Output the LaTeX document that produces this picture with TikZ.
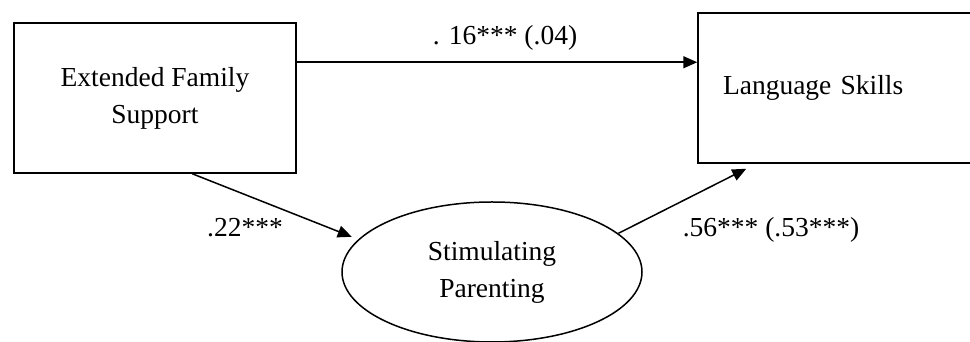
\documentclass[tikz,border=0pt]{standalone}
\usepackage{fontspec}
\setmainfont{Liberation Serif}
\usetikzlibrary{arrows.meta,shapes.geometric}
\begin{document}
\begin{tikzpicture}[x=1pt,y=1pt,
  every node/.style={font=\fontsize{27.5}{37}\selectfont},
  boxnode/.style={draw, line width=1.5pt, inner sep=0pt},
  ovalnode/.style={draw, ellipse, line width=1.5pt, inner sep=0pt, minimum width=300pt, minimum height=140pt, align=center},
  arr/.style={line width=1.5pt, -{Triangle[length=14pt,width=12pt]}},
  lbl/.style={inner sep=0pt}]
\clip (0,0) rectangle (970,342);
\fill[white] (0,0) rectangle (970,342);
\node[boxnode, minimum width=282pt, minimum height=150pt, align=center] (efs) at (155,244) {Extended Family\\Support};
\node[boxnode, minimum width=312pt, minimum height=150pt, text width=262pt, inner xsep=25pt, align=left] (ls) at (854,254) {Language Skills};
\node[ovalnode] (sp) at (492,70) {Stimulating\\Parenting};
\draw[arr] ([yshift=-40pt]efs.north east) coordinate (a) -- (a -| ls.west);
\node[lbl] (l16) at (505,304) {. 16*** (.04)};
\draw[arr] ([xshift=179pt]efs.south west) -- ([shift={(-5pt,4pt)}]sp.167);
\node[lbl] (l22) at (245,114) {.22***};
\draw[arr] (sp.17) -- ([shift={(49pt,-5pt)}]ls.south west);
\node[lbl] (l56) at (771,112) {.56*** (.53***)};
\end{tikzpicture}
\end{document}
